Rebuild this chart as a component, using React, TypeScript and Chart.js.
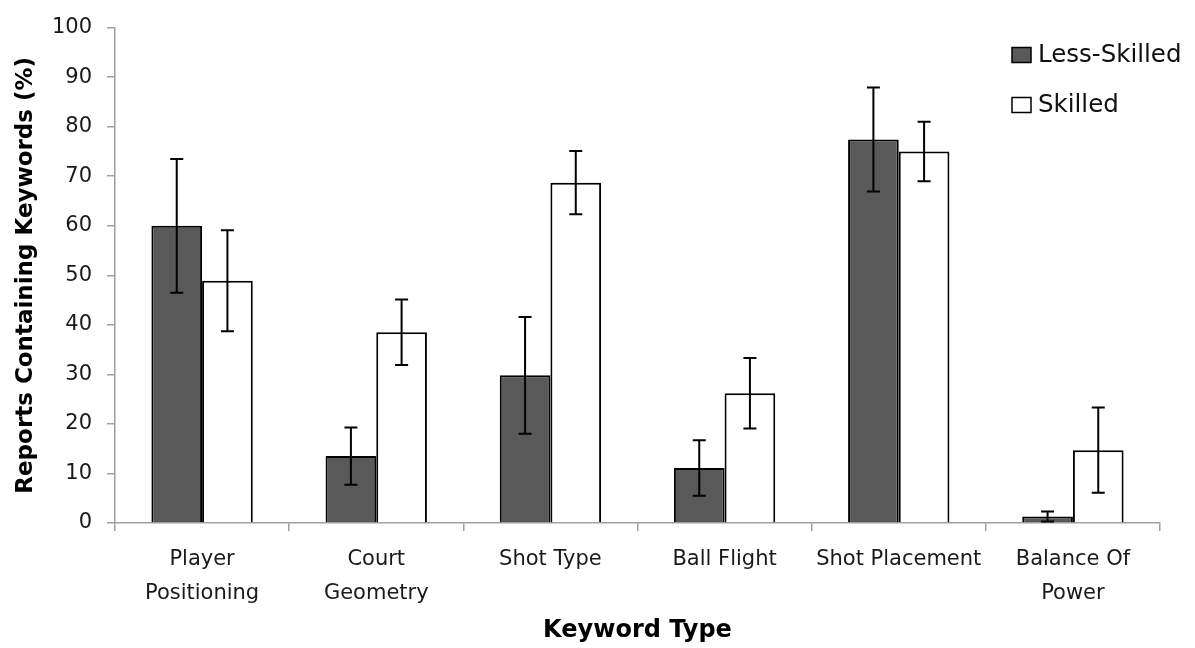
import React, { useEffect, useRef } from "react";
import { Chart, registerables } from "chart.js";

Chart.register(...registerables);

const categories: string[][] = [
  ["Player", "Positioning"],
  ["Court", "Geometry"],
  ["Shot Type"],
  ["Ball Flight"],
  ["Shot Placement"],
  ["Balance Of", "Power"],
];

const seriesNames = ["Less-Skilled", "Skilled"];
const lessSkilled = [60.0, 13.5, 29.8, 11.1, 77.4, 1.3];
const lessSkilledErr = [13.5, 5.8, 11.8, 5.6, 10.5, 1.0];
const skilled = [48.9, 38.5, 68.7, 26.2, 75.0, 14.7];
const skilledErr = [10.2, 6.6, 6.4, 7.1, 6.0, 8.6];

const yMin = 0;
const yMax = 100;
const yStep = 10;

const yTitle = "Reports Containing Keywords (%)";
const xTitle = "Keyword Type";

const DARK = "#595959";
const FONT = "'DejaVu Sans', sans-serif";

export default function App() {
  const ref = useRef<HTMLCanvasElement>(null);

  useEffect(() => {
    const canvas = ref.current;
    if (!canvas) return;

    const errorBars = {
      id: "errorBars",
      afterDatasetsDraw(chart: any) {
        const { ctx } = chart;
        const yScale = chart.scales.y;
        chart.data.datasets.forEach((ds: any, i: number) => {
          const meta = chart.getDatasetMeta(i);
          const errs: number[] = ds.errors || [];
          meta.data.forEach((el: any, j: number) => {
            const v = ds.data[j] as number;
            const e = errs[j] || 0;
            const x = el.x;
            const yt = yScale.getPixelForValue(v + e);
            const yb = yScale.getPixelForValue(Math.max(yMin, v - e));
            const cap = 6.5;
            ctx.save();
            ctx.strokeStyle = "#000";
            ctx.lineWidth = 2;
            ctx.beginPath();
            ctx.moveTo(x, yt);
            ctx.lineTo(x, yb);
            ctx.moveTo(x - cap, yt);
            ctx.lineTo(x + cap, yt);
            ctx.moveTo(x - cap, yb);
            ctx.lineTo(x + cap, yb);
            ctx.stroke();
            ctx.restore();
          });
        });
      },
    };

    const customLegend = {
      id: "customLegend",
      afterDraw(chart: any) {
        const { ctx } = chart;
        const x0 = 1012;
        const rows = [55, 105];
        chart.data.datasets.forEach((ds: any, i: number) => {
          const cy = rows[i];
          ctx.save();
          ctx.fillStyle = ds.backgroundColor;
          ctx.fillRect(x0, cy - 7.5, 19, 15);
          ctx.strokeStyle = "#000";
          ctx.lineWidth = 1.5;
          ctx.strokeRect(x0, cy - 7.5, 19, 15);
          ctx.fillStyle = "#111";
          ctx.font = `24.5px ${FONT}`;
          ctx.textBaseline = "middle";
          ctx.textAlign = "left";
          ctx.fillText(ds.label, x0 + 26, cy + 1);
          ctx.restore();
        });
      },
    };

    const chart = new Chart(canvas, {
      type: "bar",
      data: {
        labels: categories,
        datasets: [
          {
            label: seriesNames[0],
            data: lessSkilled,
            errors: lessSkilledErr,
            backgroundColor: DARK,
            borderColor: "#000",
            borderWidth: 2,
          } as any,
          {
            label: seriesNames[1],
            data: skilled,
            errors: skilledErr,
            backgroundColor: "#ffffff",
            borderColor: "#000",
            borderWidth: 2,
          } as any,
        ],
      },
      options: {
        animation: false,
        responsive: false,
        devicePixelRatio: 1,
        layout: { padding: { top: 19, right: 35, left: 0, bottom: 0 } },
        datasets: {
          bar: { categoryPercentage: 0.582, barPercentage: 1.0 },
        },
        plugins: {
          legend: { display: false },
          tooltip: { enabled: false },
        },
        scales: {
          x: {
            grid: {
              display: true,
              drawOnChartArea: false,
              drawTicks: true,
              tickLength: 8,
              offset: true,
              color: "#a0a0a0",
              lineWidth: 1.5,
            },
            border: { display: true, color: "#a0a0a0", width: 1.5 },
            ticks: {
              color: "#1a1a1a",
              padding: 12,
              maxRotation: 0,
              autoSkip: false,
              font: { family: FONT, size: 21, lineHeight: 1.6 },
            },
            title: {
              display: true,
              text: xTitle,
              color: "#000",
              font: { family: FONT, size: 24, weight: "bold", lineHeight: 1.2 },
              padding: { top: 0, bottom: 3 },
            },
            afterFit(scale: any) {
              scale.height = 125;
            },
          },
          y: {
            min: yMin,
            max: yMax,
            ticks: {
              stepSize: yStep,
              color: "#1a1a1a",
              padding: 15,
              font: { family: FONT, size: 21 },
            },
            grid: {
              display: true,
              drawOnChartArea: false,
              drawTicks: true,
              tickLength: 8,
              color: "#a0a0a0",
              lineWidth: 1.5,
            },
            border: { display: true, color: "#a0a0a0", width: 1.5 },
            title: {
              display: true,
              text: yTitle,
              color: "#000",
              font: { family: FONT, size: 23, weight: "bold", lineHeight: 1.2 },
              padding: { top: 12, bottom: 0 },
            },
            afterFit(scale: any) {
              scale.width = 115;
            },
          },
        },
      } as any,
      plugins: [errorBars, customLegend],
    });

    return () => chart.destroy();
  }, []);

  return (
    <div style={{ position: "fixed", left: 0, top: 0, width: 1195, height: 648, background: "#fff" }}>
      <canvas ref={ref} width={1195} height={648} />
    </div>
  );
}
